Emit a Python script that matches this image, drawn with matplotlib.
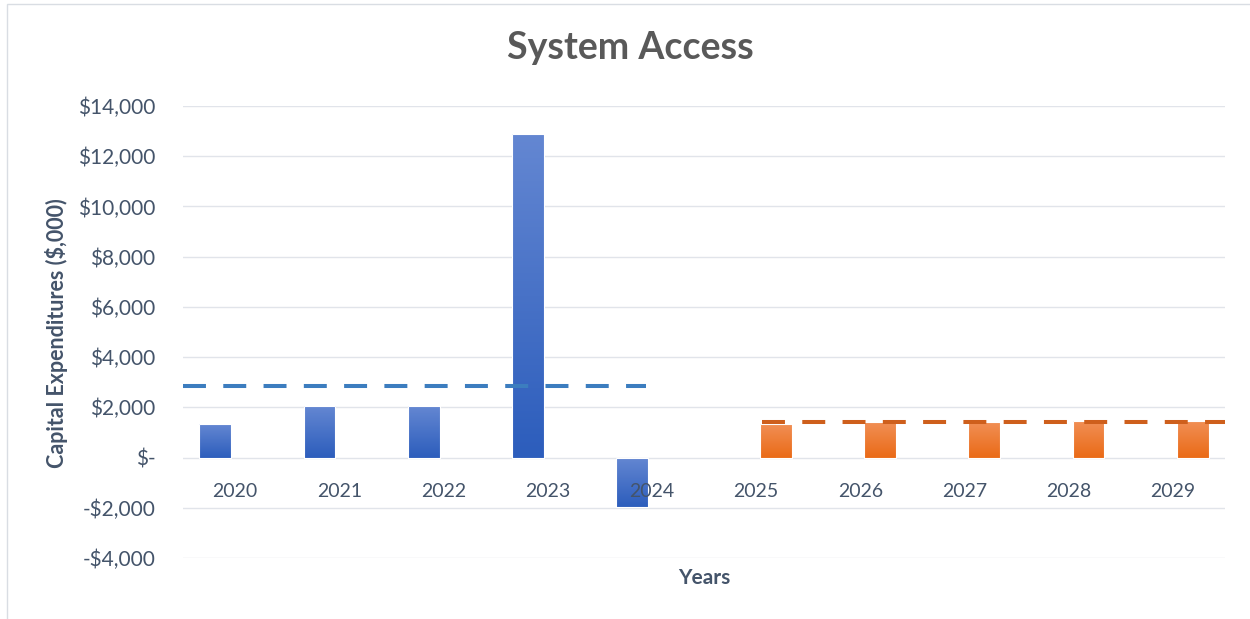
import numpy as np
import matplotlib
matplotlib.use("Agg")
import matplotlib.pyplot as plt
from matplotlib.colors import LinearSegmentedColormap
from matplotlib.patches import Rectangle
from matplotlib.ticker import FuncFormatter

# ---- data ($,000) ----
years = ["2020", "2021", "2022", "2023", "2024", "2025", "2026", "2027", "2028", "2029"]
historical_years = ["2020", "2021", "2022", "2023", "2024"]
historical_capex = [1350, 2040, 2040, 12880, -1980]
forecast_years = ["2025", "2026", "2027", "2028", "2029"]
forecast_capex = [1350, 1400, 1400, 1460, 1460]
historical_average = 2840
forecast_average = 1400
y_ticks = [-4000, -2000, 0, 2000, 4000, 6000, 8000, 10000, 12000, 14000]

TEXT = "#44546A"
TITLE = "#595959"
GRID = "#E1E4EA"
BLUE_TOP, BLUE_BOT = "#6487D2", "#2C5DBC"
ORANGE_TOP, ORANGE_BOT = "#F18F55", "#EA6A16"
BLUE_LINE = "#3C7DBF"
ORANGE_LINE = "#CE5F1C"

plt.rcParams["font.family"] = ["Lato", "DejaVu Sans"]

fig = plt.figure(figsize=(12.5, 6.19), dpi=100)
fig.patch.set_facecolor("white")

# outer chart frame
fig.add_artist(Rectangle((7 / 1250, -0.01), 1.0, 1 - 4 / 619 + 0.01,
                         transform=fig.transFigure, fill=False,
                         edgecolor="#D9DDE3", linewidth=1.0))

ax = fig.add_axes([183 / 1250, 1 - 558 / 619, (1225 - 183) / 1250, (558 - 106) / 619])
ax.set_xlim(-0.5, len(years) - 0.5)
ax.set_ylim(y_ticks[0], y_ticks[-1])

x = np.arange(len(years))
bar_w = 0.307
offset = 0.19

hist_x = [years.index(y) - offset for y in historical_years]
fore_x = [years.index(y) + offset for y in forecast_years]

ax.set_axisbelow(True)
ax.yaxis.grid(True, color=GRID, linewidth=1.0)
ax.set_yticks(y_ticks)


def money(v, _pos):
    if v == 0:
        return "$-"
    return ("-" if v < 0 else "") + "${:,.0f}".format(abs(v))


ax.yaxis.set_major_formatter(FuncFormatter(money))

blue_cmap = LinearSegmentedColormap.from_list("blue_grad", [BLUE_TOP, BLUE_BOT])
orange_cmap = LinearSegmentedColormap.from_list("orange_grad", [ORANGE_TOP, ORANGE_BOT])
grad = np.linspace(0, 1, 256).reshape(-1, 1)


def gradient_bars(xs, vals, cmap):
    bars = ax.bar(xs, vals, width=bar_w, color="none",
                  edgecolor="#FFFFFF", linewidth=0.8, zorder=3)
    for b in bars:
        x0, y0 = b.get_x(), b.get_y()
        w, h = b.get_width(), b.get_height()
        top, bot = max(y0, y0 + h), min(y0, y0 + h)
        im = ax.imshow(grad, cmap=cmap, aspect="auto", origin="upper",
                       extent=(x0, x0 + w, bot, top), zorder=2.5,
                       interpolation="bilinear")
        im.set_clip_path(b)
    return bars


gradient_bars(hist_x, historical_capex, blue_cmap)
gradient_bars(fore_x, forecast_capex, orange_cmap)
ax.set_xlim(-0.5, len(years) - 0.5)
ax.set_ylim(y_ticks[0], y_ticks[-1])

# category labels sit just under the zero line, drawn over the bars
ax.spines["bottom"].set_position(("data", 0))
for s in ["top", "right", "left", "bottom"]:
    ax.spines[s].set_visible(False)
ax.set_xticks(x)
ax.set_xticklabels(years)
ax.xaxis.set_zorder(5)
ax.tick_params(axis="x", length=0, pad=18.5, labelsize=14, labelcolor=TEXT)
ax.tick_params(axis="y", length=0, pad=20, labelsize=15, labelcolor=TEXT)

# average lines on a point-positioned category axis
ax2 = ax.twiny()
ax2.set_xlim(0, len(years) - 1)
ax2.set_ylim(y_ticks[0], y_ticks[-1])
ax2.axis("off")
hx = [years.index(y) for y in historical_years]
fx = [years.index(y) for y in forecast_years]
ax2.plot(hx, [historical_average] * len(hx), color=BLUE_LINE, linewidth=2.9,
         dashes=(5.7, 4.3), solid_capstyle="butt", dash_capstyle="butt", zorder=4)
ax2.plot(fx, [forecast_average] * len(fx), color=ORANGE_LINE, linewidth=2.9,
         dashes=(5.7, 4.3), solid_capstyle="butt", dash_capstyle="butt", zorder=4)

fig.text(630 / 1250, 1 - 48 / 619, "System Access", ha="center", va="center",
         fontsize=27, fontweight="bold", color=TITLE)
fig.text(56 / 1250, 1 - 333 / 619, "Capital Expenditures ($,000)", rotation=90,
         ha="center", va="center", fontsize=15.5, fontweight="bold", color=TEXT)
fig.text(704 / 1250, 1 - 578 / 619, "Years", ha="center", va="center",
         fontsize=15, fontweight="bold", color=TEXT)

fig.savefig("out.png", dpi=100)
